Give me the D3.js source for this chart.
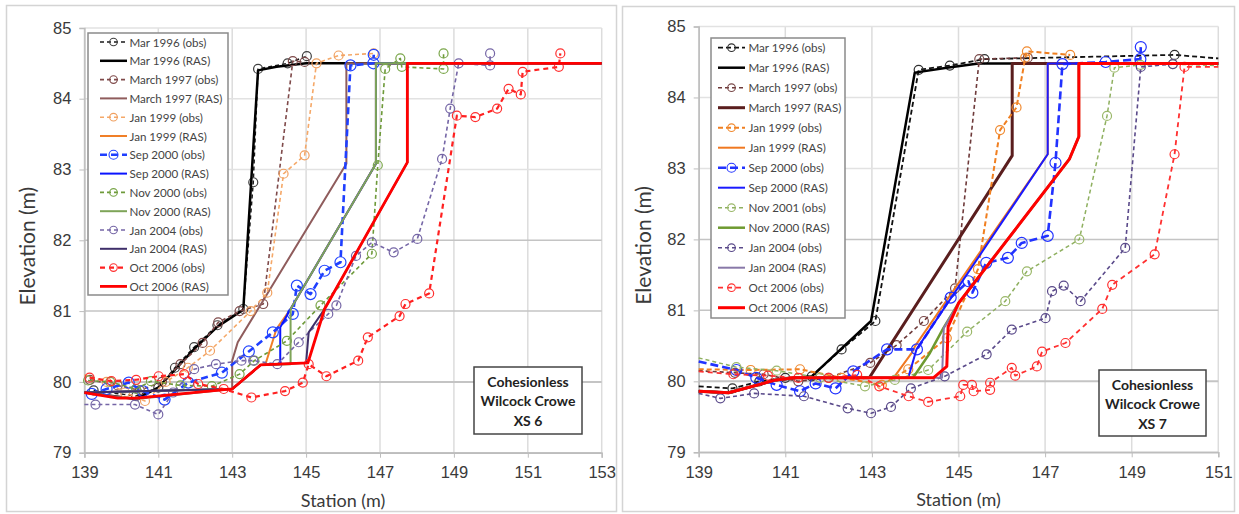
<!DOCTYPE html>
<html>
<head>
<meta charset="utf-8">
<script src="https://cdn.jsdelivr.net/npm/d3@7"></script>
<style>
  body { margin: 0; background: #fff; }
  svg { font-family: Lato, "Liberation Sans", sans-serif; }
</style>
</head>
<body>
<svg id="chart" width="1239" height="514"></svg>
<script>
// ---- shared ticks / labels
const elevTicks = [79, 80, 81, 82, 83, 84, 85];
const stationTicks6 = [139, 141, 143, 145, 147, 149, 151, 153];
const stationTicks7 = [139, 141, 143, 145, 147, 149, 151];

const labels6 = ["Mar 1996 (obs)", "Mar 1996 (RAS)", "March 1997 (obs)", "March 1997 (RAS)",
  "Jan 1999 (obs)", "Jan 1999 (RAS)", "Sep 2000 (obs)", "Sep 2000 (RAS)",
  "Nov 2000 (obs)", "Nov 2000 (RAS)", "Jan 2004 (obs)", "Jan 2004 (RAS)",
  "Oct 2006 (obs)", "Oct 2006 (RAS)"];
const labels7 = ["Mar 1996 (obs)", "Mar 1996 (RAS)", "March 1997 (obs)", "March 1997 (RAS)",
  "Jan 1999 (obs)", "Jan 1999 (RAS)", "Sep 2000 (obs)", "Sep 2000 (RAS)",
  "Nov 2001 (obs)", "Nov 2000 (RAS)", "Jan 2004 (obs)", "Jan 2004 (RAS)",
  "Oct 2006 (obs)", "Oct 2006 (RAS)"];

const note6 = ["Cohesionless", "Wilcock Crowe", "XS 6"];
const note7 = ["Cohesionless", "Wilcock Crowe", "XS 7"];

// ---- XS 6  [station, elevation]
const mar96Obs6 = [[139.25,79.88],[140.4,79.8],[141.0,79.92],[141.45,80.2],[141.97,80.49],[142.6,80.8],[143.3,81.03],[143.57,82.82],[143.7,84.42],[144.5,84.5],[145.02,84.6]];
const mar96Ras6 = [[139,79.85],[140.4,79.76],[141.0,79.92],[141.5,80.2],[142.0,80.48],[142.6,80.78],[143.3,81.02],[143.7,84.4],[144.2,84.45],[145.0,84.5],[153,84.5]];
const mar97Obs6 = [[139.15,80.03],[139.9,79.95],[140.5,79.88],[141.1,80.0],[141.6,80.25],[142.2,80.55],[142.62,80.84],[143.2,81.0],[143.84,81.1],[144.64,84.53],[144.96,84.52]];
const mar97Ras6 = [[139,79.85],[140.4,79.76],[143.0,79.9],[143.0,80.3],[143.15,80.56],[146.09,83.08],[146.09,84.5],[153,84.5]];
const jan99Obs6 = [[139.0,80.1],[139.6,80.0],[140.1,79.85],[140.64,79.73],[141.2,80.0],[141.8,80.2],[142.4,80.44],[143.5,81.0],[143.95,81.26],[144.39,82.94],[144.96,83.2],[145.28,84.5],[145.88,84.61],[146.83,84.64]];
const jan99Ras6 = [[139,79.85],[143.0,79.9],[143.77,80.24],[143.9,80.25],[144.2,80.75],[144.58,81.03],[146.89,83.08],[146.89,84.5],[153,84.5]];
const sep00Obs6 = [[139.2,79.83],[139.6,79.9],[140.2,79.99],[140.58,79.87],[141.17,79.75],[141.81,79.99],[142.72,80.13],[143.45,80.43],[144.1,80.7],[144.64,80.96],[144.75,81.36],[145.12,81.24],[145.5,81.57],[145.93,81.69],[146.2,84.47],[146.82,84.5],[146.83,84.62]];
const sep00Ras6 = [[139,79.85],[143.0,79.9],[143.77,80.24],[144.3,80.25],[144.3,80.77],[144.58,81.03],[146.89,83.08],[146.89,84.5],[153,84.5]];
const nov00Obs6 = [[139.1,80.02],[139.7,80.0],[140.4,79.9],[140.8,80.01],[141.6,79.95],[142.45,79.94],[143.2,80.11],[143.6,80.3],[144.48,80.58],[145.39,81.08],[146.78,81.81],[146.94,83.06],[147.14,84.42],[147.55,84.57],[147.59,84.45],[148.72,84.42],[148.72,84.64]];
const nov00Ras6 = [[139,79.85],[143.0,79.9],[143.77,80.24],[144.58,80.25],[144.58,81.03],[146.89,83.08],[146.89,84.5],[153,84.5]];
const jan04Obs6 = [[139.0,79.68],[139.3,79.68],[140.37,79.68],[141.0,79.54],[141.4,79.85],[141.97,80.18],[142.56,80.25],[143.25,80.3],[143.57,80.3],[144.22,80.25],[144.8,80.56],[145.6,80.96],[145.82,81.08],[146.35,81.78],[146.78,81.97],[147.37,81.83],[148.01,82.02],[148.68,83.15],[148.9,83.86],[149.13,84.5],[149.98,84.47],[149.98,84.64]];
const jan04Ras6 = [[139,79.85],[143.0,79.9],[143.77,80.24],[145.0,80.27],[145.07,80.7],[145.5,81.03],[147.74,83.1],[147.74,84.5],[153,84.5]];
const oct06Obs6 = [[139.14,80.06],[139.73,80.01],[140.4,80.03],[141.01,80.08],[141.7,80.11],[142.08,79.97],[142.77,79.9],[143.52,79.78],[144.43,79.87],[144.91,79.99],[145.07,80.25],[145.55,80.08],[146.41,80.3],[146.67,80.63],[147.53,80.93],[147.69,81.1],[148.33,81.25],[149.08,83.76],[149.58,83.74],[150.17,83.86],[150.48,84.14],[150.81,84.06],[150.86,84.38],[151.84,84.45],[151.88,84.64]];
const oct06Ras6 = [[139,79.85],[139.9,79.77],[140.4,79.77],[143.0,79.9],[143.77,80.24],[145.05,80.27],[145.5,81.03],[147.74,83.1],[147.74,84.5],[153,84.5]];

// ---- XS 7  [station, elevation]
const mar96Obs7 = [[139,79.93],[139.78,79.9],[140.4,80.0],[141.0,80.05],[141.61,80.07],[142.3,80.45],[143.08,80.85],[144.08,84.39],[144.8,84.45],[145.6,84.54],[149.99,84.6],[151,84.55]];
const mar96Ras7 = [[139,79.86],[139.69,79.84],[140.79,80.02],[141.61,80.07],[142.98,80.85],[143.99,84.35],[144.73,84.42],[145.46,84.48],[151,84.48]];
const mar97Obs7 = [[139,80.15],[139.84,80.12],[140.5,80.1],[141.3,80.0],[142.0,80.05],[142.96,80.26],[143.57,80.51],[144.2,80.85],[144.92,81.31],[145.48,84.54],[146.6,84.56]];
const mar97Ras7 = [[139,79.86],[139.69,79.84],[140.79,80.02],[141.2,80.05],[142.94,80.05],[146.24,83.18],[146.24,84.48],[151,84.48]];
const jan99Obs7 = [[139,80.17],[140.2,80.16],[141.34,80.17],[142.3,80.05],[143.23,79.95],[143.84,80.17],[144.73,80.61],[145.45,81.58],[145.96,83.54],[146.34,83.86],[146.54,84.56],[146.58,84.65],[147.58,84.6]];
const jan99Ras7 = [[139,79.86],[139.69,79.84],[140.79,80.02],[141.2,80.05],[143.5,80.05],[143.92,80.4],[144.0,80.5],[147.06,83.2],[147.06,84.48],[151,84.48]];
const sep00Obs7 = [[139,80.28],[139.87,80.16],[140.33,80.05],[140.8,79.95],[141.34,79.86],[141.7,79.97],[142.16,79.9],[142.57,80.14],[143.35,80.45],[144.04,80.45],[144.82,81.18],[145.23,81.41],[145.32,81.25],[145.64,81.67],[146.14,81.74],[146.46,81.95],[147.06,82.05],[147.24,83.08],[147.4,84.47],[148.4,84.5],[149.2,84.54],[149.21,84.71]];
const sep00Ras7 = [[139,79.86],[139.69,79.84],[140.79,80.02],[141.2,80.05],[143.84,80.05],[144.03,80.45],[147.06,83.2],[147.06,84.48],[151,84.48]];
const nov01Obs7 = [[139,80.33],[139.87,80.2],[140.8,80.15],[141.8,80.05],[142.84,79.93],[143.53,80.02],[144.3,80.16],[145.2,80.7],[146.08,81.13],[146.58,81.55],[147.79,82.0],[148.43,83.74],[148.6,84.42],[149.2,84.46],[149.95,84.47],[151,84.45]];
const nov00Ras7 = [[139,79.86],[139.69,79.84],[140.79,80.02],[141.2,80.05],[143.95,80.05],[144.34,80.4],[144.65,80.75],[145.0,81.1],[147.56,83.13],[147.78,83.45],[147.78,84.48],[151,84.48]];
const jan04Obs7 = [[139,79.83],[139.5,79.76],[140.28,79.83],[141.43,79.79],[142.44,79.62],[142.98,79.55],[143.44,79.64],[143.9,79.9],[144.68,80.07],[145.65,80.38],[146.23,80.73],[147.01,80.89],[147.16,81.27],[147.43,81.35],[147.82,81.13],[148.85,81.88],[149.21,84.43],[149.95,84.47]];
const jan04Ras7 = [[139,79.86],[139.69,79.84],[140.79,80.02],[141.2,80.05],[144.62,80.05],[144.66,80.75],[145.0,81.1],[147.56,83.13],[147.78,83.45],[147.78,84.48],[151,84.48]];
const oct06Obs7 = [[139,80.14],[139.8,80.1],[140.6,80.08],[141.3,80.05],[142.0,80.05],[142.66,80.09],[143.17,79.93],[143.85,79.79],[144.3,79.71],[145.04,79.79],[145.11,79.95],[145.31,79.95],[145.35,79.86],[145.73,79.88],[145.73,79.98],[146.23,80.19],[146.31,80.08],[146.81,80.21],[146.93,80.42],[147.47,80.54],[148.32,81.02],[148.55,81.36],[149.53,81.79],[149.99,83.2],[150.22,84.43],[151,84.43]];
const oct06Ras7 = [[139,79.86],[139.69,79.84],[140.79,80.02],[141.2,80.05],[144.42,80.05],[144.73,80.21],[144.76,80.77],[145.0,81.1],[147.56,83.13],[147.78,83.45],[147.78,84.48],[151,84.48]];

// ---- line styles (legend order)
const styles6 = [
  { color: "#1a1a1a", width: 1.5, dash: "4,3", marker: "#404040" },
  { color: "#000000", width: 2.5 },
  { color: "#7f4a4a", width: 1.6, dash: "4,3", marker: "#7f4a4a" },
  { color: "#8f5c5c", width: 2 },
  { color: "#f5a868", width: 1.6, dash: "4,3", marker: "#f0a060" },
  { color: "#f07f28", width: 2 },
  { color: "#1f3fff", width: 2.6, dash: "7,4", marker: "#2244ff", r: 5.5 },
  { color: "#0a14ff", width: 2 },
  { color: "#6e9a3a", width: 1.6, dash: "4,3", marker: "#7aa64a" },
  { color: "#7ea458", width: 2 },
  { color: "#7566a6", width: 1.6, dash: "4,3", marker: "#7566a6" },
  { color: "#3f2f6a", width: 2 },
  { color: "#ff2020", width: 2.2, dash: "5,4", marker: "#ff3030" },
  { color: "#ff0000", width: 2.8 }
];
const styles7 = [
  { color: "#111111", width: 1.8, dash: "5,3", marker: "#303030" },
  { color: "#000000", width: 2.5 },
  { color: "#6e3a3a", width: 1.6, dash: "4,3", marker: "#7a4a4a" },
  { color: "#5a1e1e", width: 3 },
  { color: "#f07f20", width: 2, dash: "5,3", marker: "#f08a30" },
  { color: "#f07820", width: 2 },
  { color: "#2233ff", width: 2.6, dash: "8,4", marker: "#2233ff", r: 5.5 },
  { color: "#1a1aff", width: 2 },
  { color: "#8fb060", width: 1.5, dash: "4,3", marker: "#9bb86a" },
  { color: "#6e9a30", width: 2.5 },
  { color: "#5a4a8a", width: 1.6, dash: "4,3", marker: "#5a4a8a" },
  { color: "#8878a8", width: 2 },
  { color: "#ff3030", width: 1.8, dash: "5,4", marker: "#ff3030" },
  { color: "#ff0000", width: 3 }
];

const series6 = [mar96Obs6, mar96Ras6, mar97Obs6, mar97Ras6, jan99Obs6, jan99Ras6, sep00Obs6, sep00Ras6, nov00Obs6, nov00Ras6, jan04Obs6, jan04Ras6, oct06Obs6, oct06Ras6];
const series7 = [mar96Obs7, mar96Ras7, mar97Obs7, mar97Ras7, jan99Obs7, jan99Ras7, sep00Obs7, sep00Ras7, nov01Obs7, nov00Ras7, jan04Obs7, jan04Ras7, oct06Obs7, oct06Ras7];

const svg = d3.select("#chart");
const textCol = "#3a3a3a";

function drawPanel(p) {
  const x = d3.scaleLinear().domain(p.xDomain).range([p.plot.left, p.plot.right]);
  const y = d3.scaleLinear().domain([79, 85]).range([p.plot.bottom, p.plot.top]);
  const g = svg.append("g");

  // panel frame
  g.append("rect")
    .attr("x", p.frame[0]).attr("y", p.frame[1])
    .attr("width", p.frame[2]).attr("height", p.frame[3])
    .attr("fill", "#fff").attr("stroke", "#d4d4d4").attr("stroke-width", 1.5);

  // gridlines
  g.append("g").selectAll("line").data(p.xTicks).join("line")
    .attr("x1", d => x(d)).attr("x2", d => x(d))
    .attr("y1", y(79)).attr("y2", y(85))
    .attr("stroke", "#dcdcdc").attr("stroke-width", 1.5);
  g.append("g").selectAll("line").data(elevTicks).join("line")
    .attr("x1", x(p.xDomain[0])).attr("x2", x(p.xDomain[1]))
    .attr("y1", d => y(d)).attr("y2", d => y(d))
    .attr("stroke", d => d >= 83 ? "#e2e2e2" : "#c4c4c4")
    .attr("stroke-width", d => d === 80 ? 2 : 1.5);

  // axes
  const yAxis = d3.axisLeft(y).tickValues(elevTicks).tickSize(5).tickPadding(8).tickFormat(d3.format("d"));
  const xAxis = d3.axisBottom(x).tickValues(p.xTicks).tickSize(5).tickPadding(9).tickFormat(d3.format("d"));
  g.append("g").attr("transform", `translate(${x(p.xDomain[0])},0)`).call(yAxis)
    .call(a => a.select(".domain").attr("stroke", "#bdbdbd").attr("stroke-width", 1.5))
    .call(a => a.selectAll(".tick line").attr("stroke", "#bdbdbd"))
    .call(a => a.selectAll(".tick text").attr("fill", textCol).style("font-size", "16.5px"));
  g.append("g").attr("transform", `translate(0,${y(79)})`).call(xAxis)
    .call(a => a.select(".domain").attr("stroke", "#bdbdbd").attr("stroke-width", 1.5))
    .call(a => a.selectAll(".tick line").attr("stroke", "#bdbdbd"))
    .call(a => a.selectAll(".tick text").attr("fill", textCol).style("font-size", "16.5px"));

  // axis titles
  g.append("text")
    .attr("transform", `translate(${p.yTitleX},${(y(79) + y(85)) / 2 + 6}) rotate(-90)`)
    .attr("text-anchor", "middle").attr("dominant-baseline", "central")
    .attr("fill", textCol).style("font-size", "21px")
    .text("Elevation (m)");
  g.append("text")
    .attr("x", (x(p.xDomain[0]) + x(p.xDomain[1])) / 2).attr("y", p.xTitleY)
    .attr("text-anchor", "middle").attr("dominant-baseline", "central")
    .attr("fill", textCol).style("font-size", "18px")
    .text("Station (m)");

  // series
  const line = d3.line().x(d => x(d[0])).y(d => y(d[1]));
  p.series.forEach((s, i) => {
    const st = p.styles[i];
    g.append("path").datum(s)
      .attr("d", line).attr("fill", "none")
      .attr("stroke", st.color).attr("stroke-width", st.width)
      .attr("stroke-dasharray", st.dash || null)
      .attr("stroke-linejoin", "round");
    if (st.marker) {
      g.append("g").selectAll("circle")
        .data(s.filter(d => d[0] > p.xDomain[0] && d[0] < p.xDomain[1]))
        .join("circle")
        .attr("cx", d => x(d[0])).attr("cy", d => y(d[1]))
        .attr("r", st.r || 4.5)
        .attr("fill", "none").attr("stroke", st.marker).attr("stroke-width", 1.2);
    }
  });

  // legend
  const L = p.legend;
  const lg = g.append("g");
  lg.append("rect")
    .attr("x", L.x).attr("y", L.y).attr("width", L.w).attr("height", L.h)
    .attr("fill", "#fff").attr("stroke", "#8a8a8a").attr("stroke-width", 1.5);
  p.labels.forEach((lab, i) => {
    const st = p.styles[i];
    const yy = L.y0 + i * L.dy;
    lg.append("line")
      .attr("x1", L.lx0).attr("x2", L.lx1).attr("y1", yy).attr("y2", yy)
      .attr("stroke", st.color).attr("stroke-width", st.width)
      .attr("stroke-dasharray", st.dash || null);
    if (st.marker) {
      lg.append("circle")
        .attr("cx", (L.lx0 + L.lx1) / 2).attr("cy", yy).attr("r", st.r ? 4.5 : 3.8)
        .attr("fill", "none").attr("stroke", st.marker).attr("stroke-width", 1.1);
    }
    lg.append("text")
      .attr("x", L.tx).attr("y", yy).attr("dominant-baseline", "central")
      .attr("fill", "#444").style("font-size", "11.6px")
      .text(lab);
  });

  // note box
  const N = p.note;
  g.append("rect")
    .attr("x", N.x).attr("y", N.y).attr("width", N.w).attr("height", N.h)
    .attr("fill", "#fff").attr("stroke", "#444").attr("stroke-width", 1.5);
  g.append("g").selectAll("text").data(p.noteText).join("text")
    .attr("x", N.x + N.w / 2).attr("y", (d, i) => N.y + 14 + i * 19.5)
    .attr("text-anchor", "middle").attr("dominant-baseline", "central")
    .attr("fill", "#222").style("font-size", "14px").style("font-weight", "bold")
    .text(d => d);
}

drawPanel({
  frame: [6.5, 5.5, 610, 506],
  plot: { left: 84.4, right: 601.7, top: 27.9, bottom: 452.7 },
  xDomain: [139, 153], xTicks: stationTicks6,
  yTitleX: 26, xTitleY: 500,
  series: series6, styles: styles6, labels: labels6,
  legend: { x: 88, y: 33, w: 140, h: 262, y0: 42, dy: 18.8, lx0: 100, lx1: 127, tx: 129.5 },
  note: { x: 474, y: 367, w: 108, h: 67 }, noteText: note6
});

drawPanel({
  frame: [622.5, 6.5, 612, 505],
  plot: { left: 698.7, right: 1218.3, top: 26.5, bottom: 452.3 },
  xDomain: [139, 151], xTicks: stationTicks7,
  yTitleX: 642, xTitleY: 499,
  series: series7, styles: styles7, labels: labels7,
  legend: { x: 711, y: 38, w: 134, h: 280, y0: 47.7, dy: 20, lx0: 718, lx1: 745, tx: 748.5 },
  note: { x: 1099, y: 370, w: 107, h: 66 }, noteText: note7
});
</script>
</body>
</html>
